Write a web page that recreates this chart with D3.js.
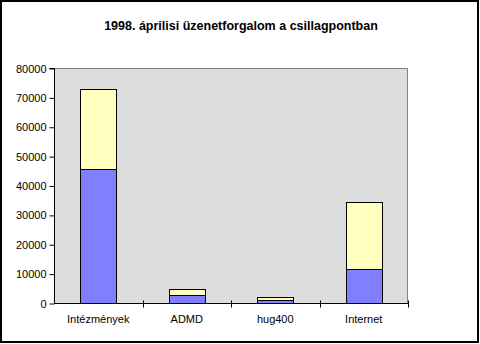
<!DOCTYPE html>
<html>
<head>
<meta charset="utf-8">
<script src="https://cdn.jsdelivr.net/npm/d3@7/dist/d3.min.js"></script>
<style>
  html, body { margin: 0; padding: 0; background: #fff; }
  svg { display: block; }
  text { font-family: Arial, "Liberation Sans", sans-serif; }
</style>
</head>
<body>
<svg id="chart" width="480" height="344"></svg>
<script>
// Monthly message traffic, April 1998
const categories = ["Intézmények", "ADMD", "hug400", "Internet"];
const seriesLower = [45500, 2700, 900, 11500];
const seriesUpper = [27500, 2000, 1000, 22800];
const yTicks = [0, 10000, 20000, 30000, 40000, 50000, 60000, 70000, 80000];
const title = "1998. áprilisi üzenetforgalom a csillagpontban";

const svg = d3.select("#chart");
const W = 480, H = 344;
const plot = { left: 54, right: 408, top: 68, bottom: 303 };

// Outer frame
svg.append("rect")
  .attr("x", 1).attr("y", 1)
  .attr("width", 477).attr("height", 341)
  .attr("fill", "#fff").attr("stroke", "#000").attr("stroke-width", 2);

svg.append("text")
  .attr("x", 241).attr("y", 30)
  .attr("text-anchor", "middle")
  .attr("font-size", 12.5).attr("font-weight", "bold")
  .text(title);

const x = d3.scaleBand().domain(categories)
  .range([plot.left, plot.right]).paddingInner(0.59).paddingOuter(0.295);
const y = d3.scaleLinear().domain([0, 80000]).range([plot.bottom, plot.top]);

// Plot area background with grey top/right edge
svg.append("rect")
  .attr("x", plot.left).attr("y", plot.top)
  .attr("width", plot.right - plot.left).attr("height", plot.bottom - plot.top)
  .attr("fill", "#dddddd");
svg.append("path")
  .attr("d", `M${plot.left},${plot.top + 0.5}H${plot.right - 0.5}V${plot.bottom}`)
  .attr("fill", "none").attr("stroke", "#808080");

// Stacked bars
const stackData = categories.map((c, i) => ({ cat: c, lower: seriesLower[i], upper: seriesUpper[i] }));
const stack = d3.stack().keys(["lower", "upper"])(stackData);
const colors = { lower: "#8080ff", upper: "#ffffc0" };

svg.append("g").selectAll("g").data(stack).join("g")
  .attr("fill", d => colors[d.key])
  .selectAll("rect").data(d => d).join("rect")
  .attr("x", d => Math.round(x(d.data.cat)) + 0.5)
  .attr("y", d => Math.round(y(d[1])) + 0.5)
  .attr("width", Math.round(x.bandwidth()))
  .attr("height", d => Math.round(y(d[0])) - Math.round(y(d[1])))
  .attr("stroke", "#000").attr("stroke-width", 1);

// Y axis
const yAxis = d3.axisLeft(y).tickValues(yTicks).tickSize(5).tickPadding(3).tickFormat(d3.format("d"));
const gy = svg.append("g").attr("transform", `translate(${plot.left + 0.5},0.5)`).call(yAxis);
gy.select(".domain").attr("d", `M-5,${plot.top}H0V${plot.bottom}`).attr("stroke", "#000");
gy.selectAll("text").attr("font-size", 11).attr("font-family", "Arial, 'Liberation Sans', sans-serif").attr("fill", "#000");

// X axis: labels centred in bands, ticks crossing the axis at band boundaries
const gx = svg.append("g").attr("transform", `translate(0,${plot.bottom + 0.5})`);
gx.append("line").attr("x1", plot.left).attr("x2", plot.right + 0.5)
  .attr("stroke", "#000");
const step = (plot.right - plot.left) / categories.length;
const boundaries = d3.range(1, categories.length + 1).map(i => plot.left + i * step);
gx.selectAll("line.tick").data(boundaries).join("line")
  .attr("class", "tick")
  .attr("x1", d => Math.round(d) + 0.5).attr("x2", d => Math.round(d) + 0.5)
  .attr("y1", -3).attr("y2", 4).attr("stroke", "#000");
gx.selectAll("text").data(categories).join("text")
  .attr("x", d => x(d) + x.bandwidth() / 2)
  .attr("y", 19)
  .attr("text-anchor", "middle")
  .attr("font-size", 11)
  .text(d => d);
</script>
</body>
</html>
